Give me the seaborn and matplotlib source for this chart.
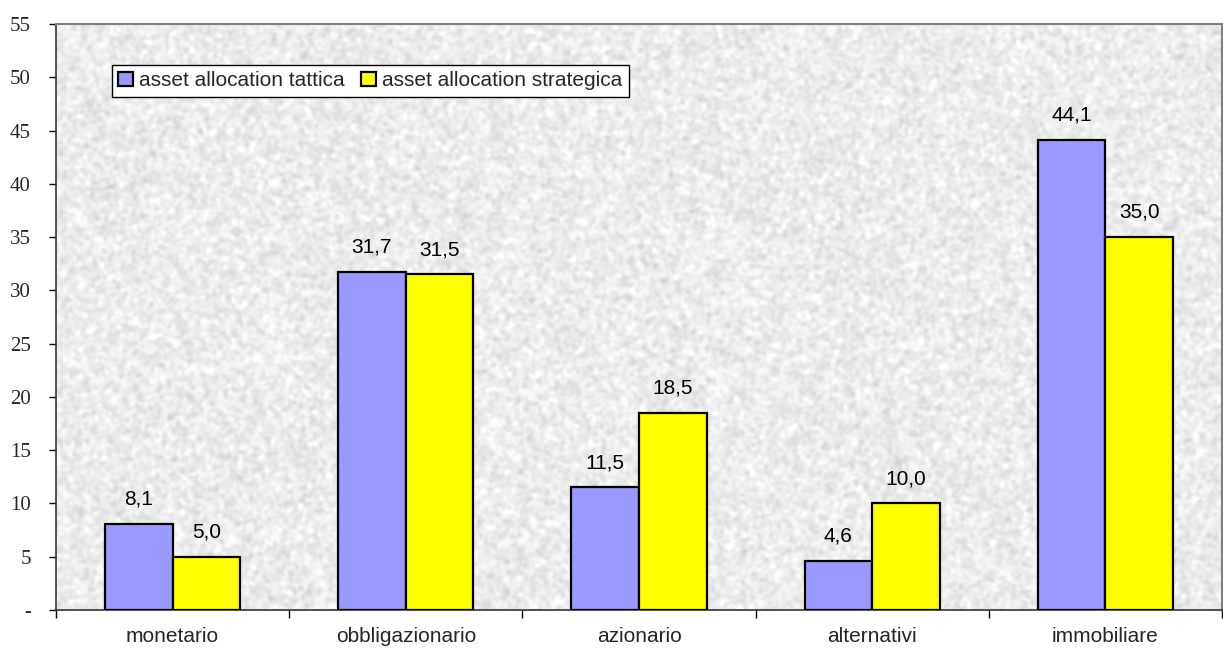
import numpy as np
import pandas as pd
import matplotlib
matplotlib.use("Agg")
import matplotlib.pyplot as plt
from matplotlib.patches import Patch
import seaborn as sns

categorie = ["monetario", "obbligazionario", "azionario", "alternativi", "immobiliare"]
tattica = [8.1, 31.7, 11.5, 4.6, 44.1]
strategica = [5.0, 31.5, 18.5, 10.0, 35.0]
serie = ["asset allocation tattica", "asset allocation strategica"]
colori = ["#9999FF", "#FFFF00"]
yticks = list(range(0, 56, 5))
ytick_labels = ["-"] + [str(v) for v in yticks[1:]]

df = pd.DataFrame({
    "categoria": categorie * 2,
    "valore": tattica + strategica,
    "serie": [serie[0]] * len(categorie) + [serie[1]] * len(categorie),
})

sns.set_theme(style="white")
plt.rcParams["font.family"] = ["Liberation Sans", "DejaVu Sans"]

fig = plt.figure(figsize=(12.23, 6.48), dpi=100)
ax = fig.add_axes([56 / 1223, 38 / 648, 1166 / 1223, 586 / 648])

sns.barplot(data=df, x="categoria", y="valore", hue="serie", palette=colori,
            width=0.58, saturation=1, edgecolor="black", linewidth=1.6,
            ax=ax, zorder=3)

ax.set_xlim(-0.5, len(categorie) - 0.5)
ax.set_ylim(0, 55)

# granite-like paper texture behind the bars
rng = np.random.default_rng(11)
h, w = 586, 1166
noise = rng.normal(size=(h, w))
ky = np.fft.fftfreq(h)[:, None]
kx = np.fft.fftfreq(w)[None, :]
sigma = 1.8
blur = np.exp(-2 * (np.pi * sigma) ** 2 * (kx ** 2 + ky ** 2))
tex = np.real(np.fft.ifft2(np.fft.fft2(noise) * blur))
tex = (tex - tex.mean()) / tex.std()
gray = np.clip(0.925 + 0.026 * tex, 0.83, 0.985)
ax.imshow(gray, cmap="gray", vmin=0, vmax=1, extent=(-0.5, len(categorie) - 0.5, 0, 55),
          aspect="auto", zorder=0, interpolation="nearest")

# value labels with decimal comma
for cont in ax.containers:
    labels = [f"{v:.1f}".replace(".", ",") for v in cont.datavalues]
    ax.bar_label(cont, labels=labels, padding=11, fontsize=15, color="black")

# y axis
ax.set_yticks(yticks)
ax.set_yticklabels(ytick_labels, fontfamily=["Liberation Serif", "DejaVu Serif"], fontsize=15)
ax.tick_params(axis="y", which="major", direction="out", length=5, width=1, color="black",
               left=True, pad=13)

# x axis: tick marks on category boundaries, labels centred
ax.set_xticks(np.arange(-0.5, len(categorie), 1.0))
ax.set_xticklabels([])
ax.set_xticks(np.arange(len(categorie)), minor=True)
ax.set_xticklabels(categorie, minor=True, fontsize=15)
ax.tick_params(axis="x", which="major", direction="out", length=6, width=1, color="black",
               bottom=True)
ax.tick_params(axis="x", which="minor", length=0, pad=12)
ax.set_xlabel("")
ax.set_ylabel("")

for side in ["left", "bottom"]:
    ax.spines[side].set_color("#333333")
    ax.spines[side].set_linewidth(1.2)
for side in ["top", "right"]:
    ax.spines[side].set_color("#808080")
    ax.spines[side].set_linewidth(1.5)

handles = [Patch(facecolor=c, edgecolor="black", linewidth=1.6) for c in colori]
leg = ax.legend(handles, serie, loc="upper left", bbox_to_anchor=(0.048, 0.93), ncol=2,
                frameon=True, fancybox=False, framealpha=1, edgecolor="black",
                fontsize=15, handlelength=0.7, handleheight=0.7, handletextpad=0.3,
                columnspacing=0.8, borderpad=0.3, borderaxespad=0)
leg.get_frame().set_linewidth(1.0)
leg.set_zorder(5)

fig.savefig("out.png", dpi=100)
